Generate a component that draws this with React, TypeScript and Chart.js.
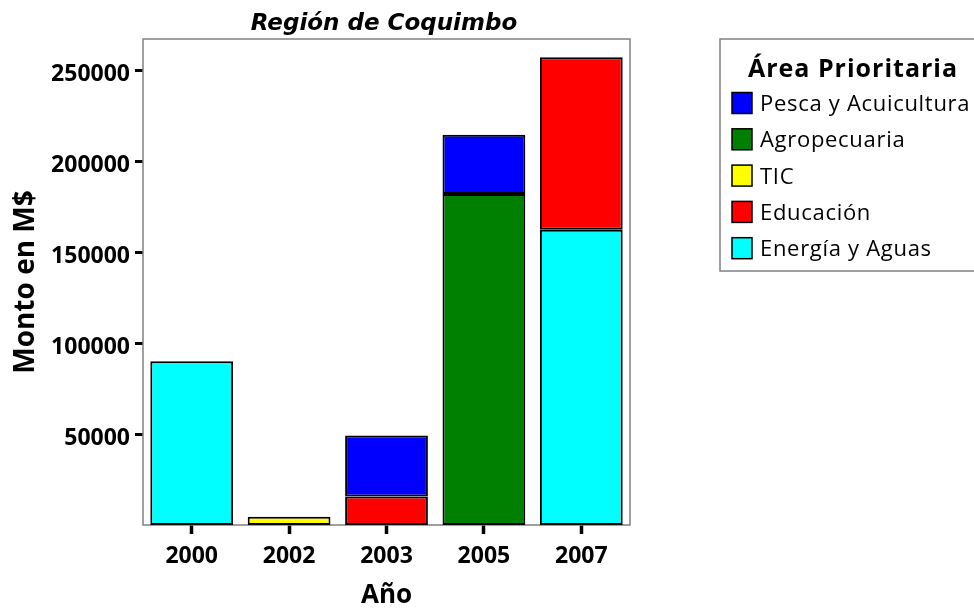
import React, { useEffect, useRef } from "react";
import { Chart, registerables } from "chart.js";

Chart.register(...registerables);

const years = ["2000", "2002", "2003", "2005", "2007"];
const energiaAguas = [90000, null, null, null, 162400];
const educacion = [null, null, 15700, null, 94800];
const tic = [null, 4500, null, null, null];
const agropecuaria = [null, null, null, 182000, null];
const pescaAcuicultura = [null, null, 33500, 32600, null];
const yTickValues = [50000, 100000, 150000, 200000, 250000];

const chartTitle = "Región de Coquimbo";
const legendTitle = "Área Prioritaria";
const yTitle = "Monto en M$";
const xTitle = "Año";
const yMax = 267300;

const framePlugin = {
  id: "frame",
  beforeDatasetsDraw(chart: any) {
    const { ctx, chartArea } = chart;
    ctx.save();
    ctx.strokeStyle = "#808080";
    ctx.lineWidth = 1.5;
    ctx.strokeRect(chartArea.left, chartArea.top, chartArea.right - chartArea.left, chartArea.bottom - chartArea.top);
    ctx.restore();
  },
  afterDraw(chart: any) {
    const { ctx } = chart;
    ctx.save();
    ctx.fillStyle = "#000";
    ctx.font = "italic bold 23px 'DejaVu Sans'";
    ctx.textAlign = "center";
    ctx.textBaseline = "alphabetic";
    ctx.fillText(chartTitle, 384, 30);

    const bx = 720, by = 39, bw = 270, bh = 232;
    ctx.strokeStyle = "#808080";
    ctx.lineWidth = 1.5;
    ctx.strokeRect(bx, by, bw, bh);
    ctx.font = "bold 25px 'Open Sans'";
    (ctx as any).letterSpacing = "1px";
    ctx.textAlign = "center";
    ctx.fillText(legendTitle, 853, 77);

    const ds = chart.data.datasets.slice().reverse();
    ctx.font = "22px 'Open Sans'";
    (ctx as any).letterSpacing = "0.7px";
    ctx.textAlign = "left";
    ds.forEach((d: any, i: number) => {
      const cy = 103 + i * 36.3;
      ctx.fillStyle = d.backgroundColor;
      ctx.fillRect(732, cy - 10.5, 20, 21);
      ctx.strokeStyle = "#000";
      ctx.lineWidth = 1.5;
      ctx.strokeRect(732, cy - 10.5, 20, 21);
      ctx.fillStyle = "#000";
      ctx.fillText(d.label, 760, cy + 8);
    });
    ctx.restore();
  },
};

export default function App() {
  const ref = useRef<HTMLCanvasElement>(null);
  useEffect(() => {
    if (!ref.current) return;
    Chart.defaults.font.family = "'Open Sans'";
    const common = { borderColor: "#000", borderWidth: 2, borderSkipped: false as const, barPercentage: 0.85, categoryPercentage: 1 };
    const chart = new Chart(ref.current, {
      type: "bar",
      data: {
        labels: years,
        datasets: [
          { label: "Energía y Aguas", data: energiaAguas, backgroundColor: "#00FFFF", ...common },
          { label: "Educación", data: educacion, backgroundColor: "#FF0000", ...common },
          { label: "TIC", data: tic, backgroundColor: "#FFFF00", ...common },
          { label: "Agropecuaria", data: agropecuaria, backgroundColor: "#008000", ...common },
          { label: "Pesca y Acuicultura", data: pescaAcuicultura, backgroundColor: "#0000FF", ...common },
        ],
      },
      options: {
        responsive: false,
        animation: false,
        layout: { padding: { top: 39, right: 344, left: 0, bottom: 0 } },
        plugins: { legend: { display: false }, title: { display: false }, tooltip: { enabled: false } },
        scales: {
          x: {
            stacked: true,
            border: { display: false },
            grid: { display: true, offset: false, drawOnChartArea: false, drawTicks: true, tickLength: 9, tickWidth: 3.5, tickColor: "#000" },
            ticks: { color: "#000", font: { size: 23, weight: "bold" }, padding: 9 },
            title: { display: true, text: xTitle, color: "#000", font: { size: 26, weight: "bold", lineHeight: 1 }, padding: { top: 0, bottom: 0 } },
            afterFit: (s: any) => { s.height = 84; },
          },
          y: {
            type: "linear",
            stacked: true,
            min: 0,
            max: yMax,
            border: { display: false },
            grid: { display: true, drawOnChartArea: false, drawTicks: true, tickLength: 8, tickWidth: 3, tickColor: "#000" },
            ticks: {
              autoSkip: false,
              color: "#000",
              font: { size: 23, weight: "bold" },
              padding: 5,
              labelOffset: 4,
              callback: (v: any) => String(v),
            },
            afterBuildTicks: (s: any) => { s.ticks = yTickValues.map((v) => ({ value: v })); },
            title: { display: true, text: yTitle, color: "#000", font: { size: 28, weight: "bold", lineHeight: 1 }, padding: { top: 12, bottom: 0 } },
            afterFit: (s: any) => { s.width = 143; },
          },
        },
      },
      plugins: [framePlugin],
    });
    return () => chart.destroy();
  }, []);
  return (
    <div style={{ position: "fixed", left: 0, top: 0, width: 974, height: 609, background: "#fff" }}>
      <canvas ref={ref} width={974} height={609} style={{ display: "block" }} />
    </div>
  );
}
